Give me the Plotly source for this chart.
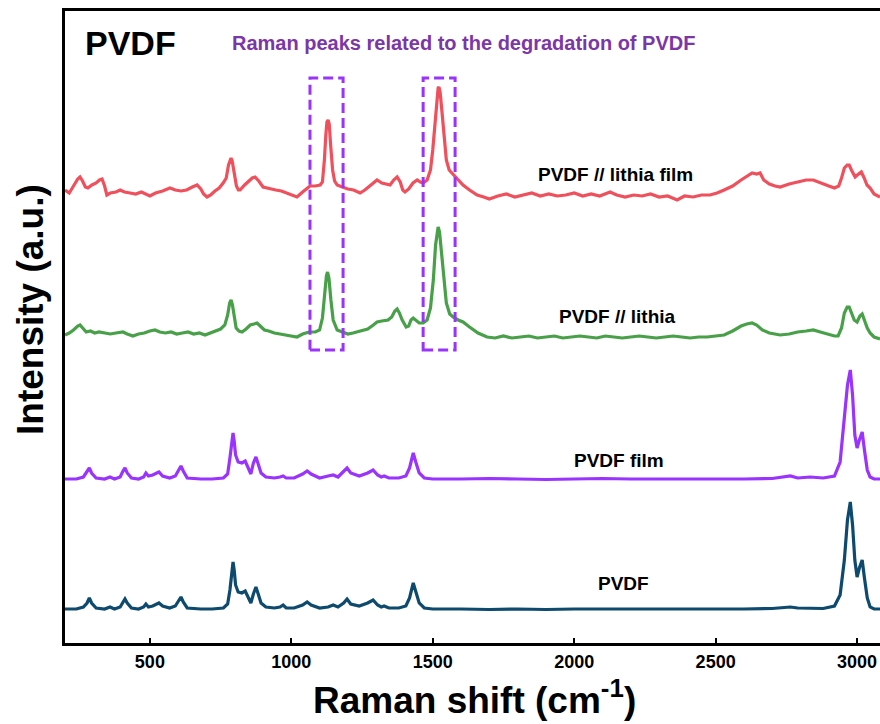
import plotly.graph_objects as go

# ---------------- data (Raman shift in cm-1, intensity relative to each baseline, a.u.) -------------
pvdf_x = [200, 240, 265, 278, 286, 294, 310, 340, 359, 375, 395, 405, 412, 420, 435, 460, 478, 486, 495, 510,
          522, 532, 545, 570, 590, 602, 610, 618, 632, 680, 720, 760, 775, 783, 790, 794, 798, 803, 812, 825,
          837, 847, 857, 866, 875, 883, 893, 910, 940, 960, 971, 982, 1010, 1040, 1056, 1070, 1100, 1130, 1148,
          1165, 1185, 1197, 1210, 1240, 1270, 1289, 1305, 1318, 1328, 1345, 1380, 1405, 1418, 1431, 1440, 1452,
          1470, 1500, 1600, 1700, 1800, 1900, 2000, 2100, 2200, 2300, 2400, 2500, 2600, 2700, 2740, 2764, 2790,
          2834, 2880, 2920, 2940, 2955, 2966, 2976, 2984, 2992, 3000, 3008, 3018, 3026, 3036, 3046, 3060, 3081]
pvdf_y = [0, 0, 2, 6, 11, 6, 1, 0, 2, 0, 2, 7, 10, 6, 1, 0, 2, 5, 2, 3,
          5, 6, 3, 1, 3, 8, 12, 7, 1, 0, 0, 1, 5, 19, 39, 47, 39, 24, 17, 16,
          18, 12, 6, 15, 22, 15, 6, 2, 1, 2, 4, 1, 1, 4, 7, 4, 1, 2, 4,
          2, 6, 10, 5, 3, 6, 9, 4, 2, 3, 1, 1, 3, 11, 26, 17, 6,
          1, 0, 0, -0.5, 0, -0.5, 0, 0, -0.5, 0, 0, 0, 0, 0.5, 1.5, 2, 1,
          1, 0.5, 3, 14, 49, 89, 107, 84, 49, 32, 41, 49, 31, 11, 2, 0, 0]

film_x = pvdf_x
film_y = [0, 0, 2, 7, 11, 6, 1, 0, 2, 0, 2, 8, 11, 6, 1, 0, 2, 6, 3, 4,
          6, 7, 3, 1, 3, 9, 13, 8, 1, 0, 0, 1, 5, 21, 39, 46, 38, 24, 17, 16,
          18, 12, 5, 16, 22, 15, 6, 2, 1, 2, 3, 1, 1, 5, 8, 5, 1, 3, 4,
          2, 7, 11, 6, 3, 6, 9, 4, 2, 3, 1, 1, 3, 11, 26, 17, 6,
          1, 0, 0, 0.5, 0, -0.5, 0, 0.5, 0, 0, -0.5, 0, 0, 0.5, 2, 3, 1,
          2, 1, 3, 17, 59, 94, 109, 84, 44, 31, 39, 47, 29, 9, 2, 0, 0]

lithia_x = [200, 215, 230, 245, 253, 262, 275, 290, 305, 320, 340, 360, 380, 405, 420, 440, 460, 480, 500, 518,
            535, 555, 575, 595, 615, 635, 655, 675, 695, 715, 735, 750, 765, 775, 782, 787, 792, 798, 805, 815,
            826, 840, 855, 868, 879, 890, 905, 920, 940, 960, 980, 995, 1006, 1020, 1040, 1063, 1085, 1100, 1110,
            1118, 1124, 1128, 1133, 1140, 1148, 1162, 1180, 1200, 1218, 1232, 1250, 1270, 1290, 1303, 1320, 1342,
            1355, 1366, 1374, 1382, 1392, 1406, 1415, 1423, 1431, 1440, 1452, 1466, 1480, 1492, 1502, 1510, 1516,
            1519, 1524, 1530, 1538, 1548, 1560, 1572, 1590, 1607, 1630, 1660, 1692, 1720, 1750, 1780, 1810, 1840,
            1870, 1900, 1930, 1960, 1990, 2020, 2050, 2080, 2110, 2140, 2170, 2200, 2230, 2260, 2290, 2320, 2350,
            2380, 2410, 2440, 2470, 2500, 2530, 2560, 2590, 2610, 2629, 2645, 2665, 2690, 2710, 2728, 2760, 2790,
            2820, 2845, 2870, 2900, 2920, 2933, 2945, 2955, 2965, 2972, 2980, 2990, 3000, 3010, 3018, 3026, 3036,
            3046, 3060, 3081]
lithia_y = [2, 4, 7, 11, 12, 9, 5, 6, 4, 5, 4, 3, 4, 5, 3, 1, 3, 4, 6, 7,
            5, 4, 5, 3, 4, 5, 3, 4, 2, 4, 6, 8, 12, 22, 34, 37, 32, 19, 9, 6,
            5, 8, 12, 13, 14, 11, 7, 6, 4, 3, 2, 1, 0, 0, 3, 5, 5, 7, 19,
            44, 61, 65, 59, 37, 17, 7, 5, 3, 4, 5, 6, 8, 12, 15, 16, 17,
            20, 26, 28, 24, 17, 10, 11, 17, 19, 17, 14, 14, 17, 29, 57, 92, 108,
            110, 105, 87, 57, 34, 23, 20, 17, 15, 10, 4, 0, -1, 1, -1, 0, 1,
            -1, 0, 1, -1, 0, 1, 0, -1, 1, 0, -1, 0, 1, 0, -1, 0, 1,
            0, -1, 0, 0, 1, 2, 6, 11, 13, 14, 12, 7, 4, 3, 2, 3, 5,
            6, 7, 5, 3, 1, 1, 9, 24, 30, 30, 24, 17, 15, 21, 23, 17, 9,
            4, 0, -2]

lithiafilm_x = [200, 215, 230, 245, 253, 262, 272, 281, 295, 310, 322, 331, 340, 348, 360, 380, 395, 410, 430, 450,
                470, 485, 500, 520, 545, 571, 590, 610, 630, 650, 667, 680, 690, 702, 715, 730, 745, 759, 770, 778,
                784, 787, 791, 798, 806, 813, 819, 835, 850, 862, 872, 885, 900, 925, 945, 965, 985, 1000, 1020,
                1040, 1066, 1085, 1102, 1110, 1117, 1122, 1126, 1130, 1134, 1139, 1146, 1153, 1162, 1180, 1200, 1220,
                1243, 1260, 1280, 1303, 1320, 1335, 1349, 1362, 1374, 1385, 1394, 1402, 1415, 1430, 1445, 1456, 1466,
                1480, 1492, 1500, 1508, 1514, 1519, 1522, 1526, 1532, 1540, 1548, 1558, 1568, 1585, 1607, 1630, 1657,
                1680, 1700, 1730, 1760, 1790, 1820, 1850, 1880, 1910, 1940, 1970, 2000, 2030, 2060, 2090, 2127, 2150,
                2180, 2210, 2240, 2270, 2300, 2330, 2364, 2390, 2420, 2450, 2480, 2505, 2530, 2560, 2590, 2610, 2629,
                2645, 2657, 2670, 2690, 2710, 2728, 2760, 2790, 2820, 2845, 2870, 2900, 2920, 2935, 2945, 2955, 2965,
                2972, 2980, 2993, 3005, 3015, 3025, 3035, 3046, 3060, 3081]
lithiafilm_y = [5, 2, 9, 16, 18, 14, 8, 7, 10, 12, 15, 16, 9, 0, 2, 3, 5, 3, 2, 1,
                3, 1, -1, 2, 4, 7, 5, 4, 5, 8, 10, 6, 1, -2, 0, 4, 7, 12, 17, 30,
                36, 37, 34, 20, 9, 5, 5, 10, 14, 17, 18, 14, 8, 6, 5, 4, 2, 0, -2,
                3, 9, 9, 10, 13, 35, 60, 73, 75, 71, 50, 25, 14, 10, 8, 6, 5,
                2, 5, 10, 15, 12, 11, 10, 15, 18, 13, 5, 3, 6, 12, 15, 13, 12,
                15, 25, 45, 75, 97, 107, 108, 103, 85, 55, 35, 25, 22, 17, 10, 5, 0,
                -2, -4, -1, 1, -2, 0, 2, -1, 1, -1, 0, 2, -1, 1, -1, 3, 0,
                -2, 0, -1, 1, -2, -1, -5, -1, -2, 0, 0, 2, 5, 9, 15, 19, 22,
                21, 22, 15, 11, 9, 8, 11, 13, 15, 15, 12, 9, 7, 9, 17, 27, 30,
                30, 25, 18, 21, 23, 17, 10, 7, 1, -2]

series_names = ["PVDF", "PVDF film", "PVDF // lithia", "PVDF // lithia film"]
series_offsets = [34, 164, 306, 448]
series_colors = ["#0E4A6E", "#9B33FF", "#48A048", "#F0505C"]
label_x = [2175, 2159, 2154, 2145]
label_y = [60, 183, 327, 469]

# dashed boxes marking degradation peaks (x range in cm-1, y range in a.u.)
box_x0 = [1066, 1466]
box_x1 = [1183, 1579]
box_y0 = 293
box_y1 = 565

xs = [pvdf_x, film_x, lithia_x, lithiafilm_x]
ys = [pvdf_y, film_y, lithia_y, lithiafilm_y]

FONT = "Arial, Liberation Sans, sans-serif"

fig = go.Figure()
for name, x, y, off, c in zip(series_names, xs, ys, series_offsets, series_colors):
    fig.add_trace(go.Scatter(x=x, y=[v + off for v in y], mode="lines", name=name,
                             line=dict(color=c, width=3.2), showlegend=False))

for x0, x1 in zip(box_x0, box_x1):
    fig.add_shape(type="rect", x0=x0, x1=x1, y0=box_y0, y1=box_y1, xref="x", yref="y",
                  line=dict(color="#9B33FF", width=3, dash="10px,5px"))

for name, lx, ly in zip(series_names, label_x, label_y):
    fig.add_annotation(x=lx, y=ly, text=name, showarrow=False, xref="x", yref="y",
                       xanchor="center", yanchor="middle",
                       font=dict(family=FONT, size=19, color="black", weight="bold"))

fig.add_annotation(x=430, y=600, text="PVDF", showarrow=False, xref="x", yref="y",
                   xanchor="center", yanchor="middle",
                   font=dict(family=FONT, size=34, color="black", weight="bold"))
fig.add_annotation(x=1607, y=600, text="Raman peaks related to the degradation of PVDF", showarrow=False,
                   xref="x", yref="y", xanchor="center", yanchor="middle",
                   font=dict(family=FONT, size=20, color="#7B36A8", weight="bold"))

# axis titles
fig.add_annotation(x=(474 - 65) / 815, y=(643 - 697) / 632, xref="paper", yref="paper",
                   text="Raman shift (cm<sup>-1</sup>)", showarrow=False,
                   xanchor="center", yanchor="middle",
                   font=dict(family=FONT, size=37, color="black", weight="bold"))
fig.add_annotation(x=(30 - 65) / 815, y=(643 - 310) / 632, xref="paper", yref="paper",
                   text="Intensity (a.u.)", showarrow=False, textangle=-90,
                   xanchor="center", yanchor="middle",
                   font=dict(family=FONT, size=37, color="black", weight="bold"))

fig.update_xaxes(range=[200, 3081], tickvals=[500, 1000, 1500, 2000, 2500, 3000],
                 ticks="inside", ticklen=5, tickwidth=2, tickcolor="black",
                 showline=True, linewidth=3, linecolor="black", mirror=True,
                 showgrid=False, zeroline=False,
                 tickfont=dict(family=FONT, size=18, color="black", weight="bold"))
fig.update_yaxes(range=[0, 632], showticklabels=False, ticks="", showline=True, linewidth=3,
                 linecolor="black", showgrid=False, zeroline=False)

fig.update_layout(width=880, height=724, margin=dict(l=65, r=0, t=11, b=81),
                  plot_bgcolor="white", paper_bgcolor="white")

fig.write_html("out.html")
